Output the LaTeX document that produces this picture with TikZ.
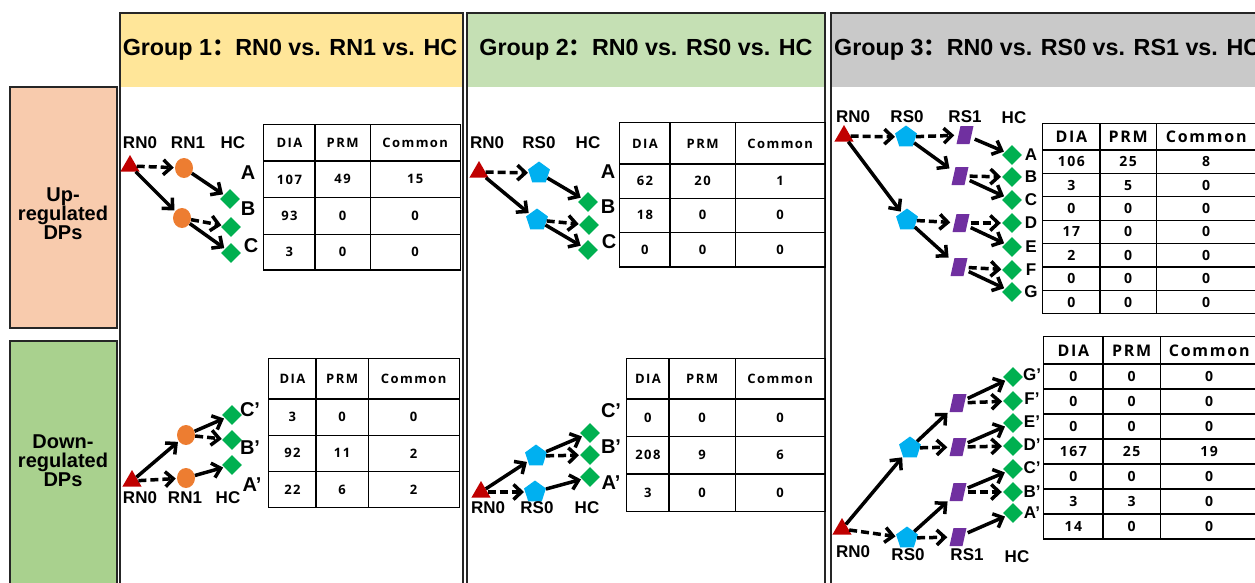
\documentclass[tikz,border=0pt]{standalone}
\usepackage{fontspec}
\setmainfont{Liberation Sans}
\newfontfamily\cjk{Noto Sans CJK SC}
\newfontfamily\tabfont[LetterSpace=11]{Open Sans}
\usetikzlibrary{arrows.meta,shapes.geometric,matrix}
\definecolor{hdrY}{HTML}{FFE699}
\definecolor{hdrG}{HTML}{C5E0B4}
\definecolor{hdrGr}{HTML}{C9C9C9}
\definecolor{upC}{HTML}{F8CBAD}
\definecolor{dnC}{HTML}{A9D18E}
\definecolor{triC}{HTML}{C00000}
\definecolor{cirC}{HTML}{ED7D31}
\definecolor{penC}{HTML}{00B0F0}
\definecolor{diaC}{HTML}{00B050}
\definecolor{parC}{HTML}{7030A0}
\definecolor{edgeC}{HTML}{262626}
\tikzset{
  tri/.style={regular polygon, regular polygon sides=3, minimum size=22pt, fill=triC, inner sep=0pt},
  cir/.style={ellipse, minimum width=18pt, minimum height=20pt, fill=cirC, inner sep=0pt},
  pen/.style={regular polygon, regular polygon sides=5, minimum size=23pt, fill=penC, inner sep=0pt},
  dia/.style={diamond, minimum width=20pt, minimum height=20pt, fill=diaC, inner sep=0pt},
  parbox/.style={rectangle, minimum width=19pt, minimum height=19pt, inner sep=0pt},
  lbl/.style={font=\bfseries\fontsize{17}{17}\selectfont, inner sep=0pt},
  big/.style={font=\bfseries\fontsize{20}{20}\selectfont, inner sep=0pt},
  con/.style={line width=3.5pt, shorten >=1pt, -{Straight Barb[length=8pt,width=15pt]}},
  dsh/.style={con, dash pattern=on 8pt off 4pt},
  panel/.style={draw=edgeC, line width=2pt},
  hdr/.style={font=\bfseries\fontsize{23.3}{24}\selectfont, inner sep=0pt},
  side/.style={draw=edgeC, line width=2pt},
  sidetxt/.style={font=\bfseries\fontsize{20}{19}\selectfont, align=center, inner sep=0pt},
  tab/.style={matrix of nodes, column sep=-1.2pt, row sep=-1.2pt, inner sep=0pt,
    nodes={draw, line width=1.2pt, inner sep=0pt, anchor=center,
      font=\tabfont\bfseries\fontsize{13}{13}\selectfont}},
}
% parallelogram: node with name #1 at (#2,#3); the purple shape is filled by \parfill
\newcommand\parnode[3]{\node[parbox] (#1) at (#2,#3) {};}
\newcommand\parfill[2]{%
  \fill[parC] ({#1-8.5},{#2+9}) -- ({#1+4.5},{#2+9})
     -- ({#1+8.5},{#2-9}) -- ({#1-4.5},{#2-9}) -- cycle;}
\begin{document}
\begin{tikzpicture}[x=1pt,y=-1pt]
\useasboundingbox (0,0) rectangle (1255,582);
\clip (0,0) rectangle (1255,582);
% side boxes
\draw[side, fill=upC] (10,87) rectangle (117,328);
\draw[side, fill=dnC] (10,341) rectangle (117,600);
\node[sidetxt] (uptxt) at (63,214) {Up-\\regulated\\DPs};
\node[sidetxt] (dntxt) at (63,461) {Down-\\regulated\\DPs};
% panels
\fill[hdrY] (121,14) rectangle (462,87);
\fill[hdrG] (468,14) rectangle (824,87);
\fill[hdrGr] (832,14) rectangle (1265,87);
\draw[panel] (120,13) rectangle (463,600);
\draw[panel] (467,13) rectangle (825,600);
\draw[panel] (831,13) rectangle (1270,600);
\node[hdr] (h1) at (290,50) {Group 1{\cjk ：}RN0 vs. RN1 vs. HC};
\node[hdr] (h2) at (646,50) {Group 2{\cjk ：}RN0 vs. RS0 vs. HC};
\node[hdr, anchor=west] (h3) at (834,50) {Group 3{\cjk ：}RN0 vs. RS0 vs. RS1 vs. HC};

% ===== Group 1 top =====
\node[tri] (aT) at (130,166) {};
\node[cir] (aC1) at (184,168) {};
\node[cir] (aC2) at (182,218) {};
\node[dia] (aD1) at (230,199) {};
\node[dia] (aD2) at (231,227) {};
\node[dia] (aD3) at (231,253) {};
\node[lbl] (aL1) at (140,143) {RN0};
\node[lbl] (aL2) at (188,143) {RN1};
\node[lbl] (aL3) at (233,143) {HC};
\node[big] (aA) at (248,173) {A};
\node[big] (aB) at (248,209) {B};
\node[big] (aCc) at (251,246) {C};
\draw[dsh] (aT) -- (aC1);
\draw[con] (aC1) -- (aD1);
\draw[con] (aT) -- (aC2);
\draw[dsh] (aC2) -- (aD2);
\draw[con] (aC2) -- (aD3);
\matrix (ta) [tab, matrix anchor=north west,
  column 1/.style={nodes={minimum width=51.2pt}},
  column 2/.style={nodes={minimum width=55.2pt}},
  column 3/.style={nodes={minimum width=90pt}},
  row 1/.style={nodes={minimum height=36.2pt}},
  row 2/.style={nodes={minimum height=36.7pt}},
  row 3/.style={nodes={minimum height=36.7pt}},
  row 4/.style={nodes={minimum height=35.5pt}}] at (263,124) {
  DIA & PRM & Common \\
  107 & 49 & 15 \\
  93 & 0 & 0 \\
  3 & 0 & 0 \\
};

% ===== Group 1 bottom =====
\node[tri] (bT) at (132,481) {};
\node[cir] (bC1) at (186,435) {};
\node[cir] (bC2) at (186,478) {};
\node[dia] (bD1) at (232,415) {};
\node[dia] (bD2) at (232,440) {};
\node[dia] (bD3) at (232,465) {};
\node[big] (bLc) at (250,410) {C’};
\node[big] (bLb) at (250,448) {B’};
\node[big] (bLa) at (252,485) {A’};
\node[lbl] (bL1) at (140,498) {RN0};
\node[lbl] (bL2) at (185,498) {RN1};
\node[lbl] (bL3) at (228,498) {HC};
\draw[con] (bT) -- (bC1);
\draw[dsh] (bT) -- (bC2);
\draw[con] (bC1) -- (bD1);
\draw[dsh] (bC1) -- (bD2);
\draw[con] (bC2) -- (bD3);
\matrix (tb) [tab, matrix anchor=north west,
  column 1/.style={nodes={minimum width=47.2pt}},
  column 2/.style={nodes={minimum width=52.2pt}},
  column 3/.style={nodes={minimum width=91pt}},
  row 1/.style={nodes={minimum height=40.2pt}},
  row 2/.style={nodes={minimum height=36.2pt}},
  row 3/.style={nodes={minimum height=36.2pt}},
  row 4/.style={nodes={minimum height=36pt}}] at (268,358) {
  DIA & PRM & Common \\
  3 & 0 & 0 \\
  92 & 11 & 2 \\
  22 & 6 & 2 \\
};

% ===== Group 2 top =====
\node[tri] (cT) at (479,172) {};
\node[pen] (cP1) at (539,173) {};
\node[pen] (cP2) at (537,220) {};
\node[dia] (cD1) at (588,202) {};
\node[dia] (cD2) at (589,225) {};
\node[dia] (cD3) at (588,250) {};
\node[lbl] (cL1) at (487,143) {RN0};
\node[lbl] (cL2) at (539,143) {RS0};
\node[lbl] (cL3) at (588,143) {HC};
\node[big] (cA) at (608,172) {A};
\node[big] (cB) at (608,207) {B};
\node[big] (cCc) at (609,242) {C};
\draw[dsh] (cT) -- (cP1);
\draw[con] (cP1) -- (cD1);
\draw[con] (cT) -- (cP2);
\draw[dsh] (cP2) -- (cD2);
\draw[con] (cP2) -- (cD3);
\matrix (tc) [tab, matrix anchor=north west,
  column 1/.style={nodes={minimum width=50.2pt}},
  column 2/.style={nodes={minimum width=65.2pt}},
  column 3/.style={nodes={minimum width=90pt}},
  row 1/.style={nodes={minimum height=41.2pt}},
  row 2/.style={nodes={minimum height=34.2pt}},
  row 3/.style={nodes={minimum height=34.2pt}},
  row 4/.style={nodes={minimum height=34.5pt}}] at (619,122) {
  DIA & PRM & Common \\
  62 & 20 & 1 \\
  18 & 0 & 0 \\
  0 & 0 & 0 \\
};

% ===== Group 2 bottom =====
\node[tri] (dT) at (481,492) {};
\node[pen] (dP1) at (536,456) {};
\node[pen] (dP2) at (535,492) {};
\node[dia] (dD1) at (590,433) {};
\node[dia] (dD2) at (590,455) {};
\node[dia] (dD3) at (590,477) {};
\node[big] (dLc) at (611,411) {C’};
\node[big] (dLb) at (611,447) {B’};
\node[big] (dLa) at (611,483) {A’};
\node[lbl] (dL1) at (488,508) {RN0};
\node[lbl] (dL2) at (537,508) {RS0};
\node[lbl] (dL3) at (587,508) {HC};
\draw[con] (dT) -- (dP1);
\draw[dsh] (dT) -- (dP2);
\draw[con] (dP1) -- (dD1);
\draw[dsh] (dP1) -- (dD2);
\draw[con] (dP2) -- (dD3);
\matrix (td) [tab, matrix anchor=north west,
  column 1/.style={nodes={minimum width=42.2pt}},
  column 2/.style={nodes={minimum width=66.2pt}},
  column 3/.style={nodes={minimum width=90pt}},
  row 1/.style={nodes={minimum height=40.2pt}},
  row 2/.style={nodes={minimum height=37.7pt}},
  row 3/.style={nodes={minimum height=37.2pt}},
  row 4/.style={nodes={minimum height=37.5pt}}] at (626,358) {
  DIA & PRM & Common \\
  0 & 0 & 0 \\
  208 & 9 & 6 \\
  3 & 0 & 0 \\
};

% ===== Group 3 top =====
\node[tri] (eT) at (844,136) {};
\node[pen] (eP1) at (906,137) {};
\node[pen] (eP2) at (907,220) {};
\parnode{eQ1}{965}{135}
\parnode{eQ2}{960}{176}
\parnode{eQ3}{961}{223}
\parnode{eQ4}{959}{267}
\node[dia] (eDA) at (1012,155) {};
\node[dia] (eDB) at (1012,177) {};
\node[dia] (eDC) at (1012,200) {};
\node[dia] (eDD) at (1012,223) {};
\node[dia] (eDE) at (1012,247) {};
\node[dia] (eDF) at (1012,270) {};
\node[dia] (eDG) at (1012,292) {};
\node[lbl] (eLA) at (1031,155) {A};
\node[lbl] (eLB) at (1031,177) {B};
\node[lbl] (eLC) at (1031,200) {C};
\node[lbl] (eLD) at (1031,223) {D};
\node[lbl] (eLE) at (1031,247) {E};
\node[lbl] (eLF) at (1031,270) {F};
\node[lbl] (eLG) at (1031,292) {G};
\node[lbl] (eL1) at (853,117) {RN0};
\node[lbl] (eL2) at (907,117) {RS0};
\node[lbl] (eL3) at (965,117) {RS1};
\node[lbl] (eL4) at (1014,118) {HC};
\draw[dsh] (eT) -- (eP1);
\draw[con] (eT) -- (eP2);
\draw[dsh] (eP1) -- (eQ1);
\draw[con] (eP1) -- (eQ2);
\draw[con] (eQ1) -- (eDA);
\draw[dsh] (eQ2) -- (eDB);
\draw[con] (eQ2) -- (eDC);
\draw[dsh] (eP2) -- (eQ3);
\draw[con] (eP2) -- (eQ4);
\draw[dsh] (eQ3) -- (eDD);
\draw[con] (eQ3) -- (eDE);
\draw[dsh] (eQ4) -- (eDF);
\draw[con] (eQ4) -- (eDG);
\parfill{965}{135}
\parfill{960}{176}
\parfill{961}{223}
\parfill{959}{267}
\matrix (te) [tab, matrix anchor=north west,
  column 1/.style={nodes={minimum width=57.2pt}},
  column 2/.style={nodes={minimum width=56.2pt}},
  column 3/.style={nodes={minimum width=100pt}},
  row 1/.style={nodes={minimum height=26.2pt, font=\tabfont\bfseries\fontsize{16}{16}\selectfont}},
  nodes={minimum height=23.4pt, font=\tabfont\bfseries\fontsize{14}{14}\selectfont}] at (1042,123) {
  DIA & PRM & Common \\
  106 & 25 & 8 \\
  3 & 5 & 0 \\
  0 & 0 & 0 \\
  17 & 0 & 0 \\
  2 & 0 & 0 \\
  0 & 0 & 0 \\
  0 & 0 & 0 \\
};

% ===== Group 3 bottom =====
\node[tri] (fT) at (842,529) {};
\node[pen] (fP1) at (910,448) {};
\node[pen] (fP2) at (907,538) {};
\parnode{fQ1}{958}{403}
\parnode{fQ2}{958}{447}
\parnode{fQ3}{958}{492}
\parnode{fQ4}{958}{537}
\node[dia] (fDG) at (1013,377) {};
\node[dia] (fDF) at (1013,401) {};
\node[dia] (fDE) at (1013,423) {};
\node[dia] (fDD) at (1013,446) {};
\node[dia] (fDC) at (1013,469) {};
\node[dia] (fDB) at (1013,492) {};
\node[dia] (fDA) at (1013,513) {};
\node[lbl] (fLG) at (1032,375) {G’};
\node[lbl] (fLF) at (1032,399) {F’};
\node[lbl] (fLE) at (1032,422) {E’};
\node[lbl] (fLD) at (1032,445) {D’};
\node[lbl] (fLC) at (1032,468) {C’};
\node[lbl] (fLB) at (1032,492) {B’};
\node[lbl] (fLA) at (1032,513) {A’};
\node[lbl] (fL1) at (853,552) {RN0};
\node[lbl] (fL2) at (908,555) {RS0};
\node[lbl] (fL3) at (967,555) {RS1};
\node[lbl] (fL4) at (1017,557) {HC};
\draw[con] (fT) -- (fP1);
\draw[dsh] (fT) -- (fP2);
\draw[con] (fP1) -- (fQ1);
\draw[dsh] (fP1) -- (fQ2);
\draw[con] (fQ1) -- (fDG);
\draw[dsh] (fQ1) -- (fDF);
\draw[con] (fQ2) -- (fDE);
\draw[dsh] (fQ2) -- (fDD);
\draw[con] (fP2) -- (fQ3);
\draw[dsh] (fP2) -- (fQ4);
\draw[con] (fQ3) -- (fDC);
\draw[dsh] (fQ3) -- (fDB);
\draw[con] (fQ4) -- (fDA);
\parfill{958}{403}
\parfill{958}{447}
\parfill{958}{492}
\parfill{958}{537}
\matrix (tf) [tab, matrix anchor=north west,
  column 1/.style={nodes={minimum width=59.2pt}},
  column 2/.style={nodes={minimum width=57.2pt}},
  column 3/.style={nodes={minimum width=98pt}},
  row 1/.style={nodes={minimum height=27.2pt, font=\tabfont\bfseries\fontsize{16}{16}\selectfont}},
  nodes={minimum height=25pt, font=\tabfont\bfseries\fontsize{14}{14}\selectfont}] at (1043,336) {
  DIA & PRM & Common \\
  0 & 0 & 0 \\
  0 & 0 & 0 \\
  0 & 0 & 0 \\
  167 & 25 & 19 \\
  0 & 0 & 0 \\
  3 & 3 & 0 \\
  14 & 0 & 0 \\
};
\end{tikzpicture}
\end{document}
